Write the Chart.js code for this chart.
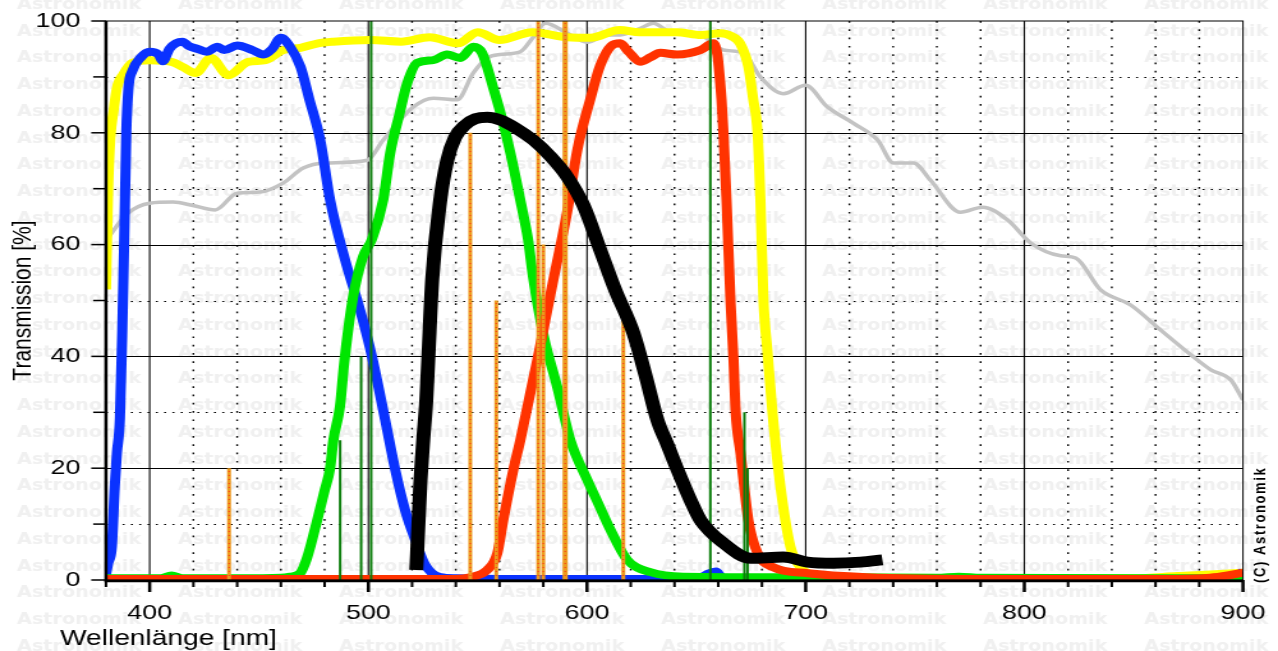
<!DOCTYPE html>
<html>
<head>
<meta charset="utf-8">
<script src="https://cdn.jsdelivr.net/npm/chart.js@4"></script>
<style>
  html, body { margin: 0; padding: 0; background: #fff; overflow: hidden; }
  /* the original picture is a 1000px wide plot stretched to 1278px */
  #chart { width: 1000px; height: 651px; transform: scaleX(1.278); transform-origin: 0 0; display: block; }
</style>
</head>
<body>
<canvas id="chart" width="1000" height="651"></canvas>
<script>
// wavelength grid (nm) and transmission (%)
const blueNm = [380, 381, 382.7, 384, 385, 386.4, 387.5, 388.5, 389.3, 390.3, 392, 396, 400, 404, 406, 409, 412, 415, 418, 422, 426, 431, 434, 440, 447, 452, 456, 460, 464, 469, 473, 478, 482.5, 489.4, 496.2, 501.7, 507.7, 512.3, 516.8, 521.4, 526, 532.9, 540, 560, 600, 650, 656, 659, 662, 670, 750, 850, 895, 900];
const blueT  = [1, 3, 6, 16.6, 22.7, 29, 45, 64, 80, 88, 91, 93.5, 94.5, 94, 92.8, 95, 96, 96.3, 95.5, 95, 94.5, 95.4, 94.8, 95.6, 94.8, 94, 95, 97, 95.5, 91.8, 86, 78.7, 68, 57.2, 48.3, 39.9, 28.6, 19.7, 12.5, 7.2, 2.7, 0.5, 0.3, 0.2, 0.2, 0.2, 1.2, 1.5, 0.4, 0.2, 0.2, 0.2, 0.2, 1.5];

const greenNm = [380, 405, 410, 415, 440, 460, 464.2, 468.8, 472, 476.6, 480, 482.5, 484, 487, 489, 493, 497.5, 501.7, 506.8, 510, 514, 517.8, 522.3, 529.7, 536, 542, 548, 552, 557, 561.7, 566.3, 570, 573, 575.4, 580, 586.4, 592.4, 600, 605, 610.7, 618.4, 629, 644, 700, 760, 770, 780, 850, 890, 900];
const greenT  = [0.3, 0.3, 0.8, 0.3, 0.3, 0.4, 0.6, 1.2, 4, 10.7, 16, 20, 25, 31, 39, 50.6, 57.8, 61, 68, 76.4, 83, 88.9, 92.5, 93, 94, 93.4, 95.4, 94.3, 88.2, 81.7, 74, 67, 61, 54, 44, 34.5, 25, 18, 13.8, 9, 3.6, 1.4, 0.6, 0.5, 0.4, 0.6, 0.4, 0.3, 0.3, 0.6];

const redNm = [380, 450, 540, 546.6, 554.4, 559, 561.7, 566.3, 569.5, 577.3, 584.6, 591, 595.6, 601.5, 606, 611, 615.2, 619, 624.4, 629, 633.5, 641.3, 651.8, 657.8, 659.6, 660.2, 661.5, 662.4, 663.8, 665.6, 667, 668, 670.2, 673.8, 678, 685, 701, 728, 780, 870, 885, 893, 900];
const redT  = [0.2, 0.2, 0.2, 0.5, 1.8, 4.8, 10.7, 19.7, 25, 39.4, 53.7, 66, 77, 86, 92, 95.5, 96, 94.5, 92.7, 93.5, 94.3, 94, 94.8, 96, 94, 92, 86, 80, 68, 50, 39.4, 30, 22.7, 10.7, 4.8, 2.3, 1.2, 0.5, 0.2, 0.2, 0.4, 0.8, 1.3];

const yellowNm = [380, 381, 382, 383.5, 385, 388, 392, 400, 410, 415, 421, 428, 436, 445, 453, 461, 469, 477, 484, 501, 515, 528, 541, 550, 560, 575, 591, 601.5, 615, 624, 641, 652, 661, 666, 670, 673.8, 676, 678, 679.3, 680.7, 682.5, 684.8, 688.5, 693, 697.6, 702, 710, 850, 870, 885, 900];
const yellowT  = [52, 70, 79, 84, 88, 90.5, 92.5, 93, 92.7, 91.8, 90.7, 93.4, 90.3, 92.7, 93, 94.8, 95.2, 96, 96.3, 96.6, 96.3, 97.1, 96, 98, 96.6, 98, 97.1, 97, 98.4, 98, 98, 97.5, 97.8, 97.3, 96, 91.8, 86, 80, 68, 50, 41, 30, 16.6, 6, 2.3, 1, 0.4, 0.3, 0.7, 1, 1.3];

const grayNm = [380.5, 390, 400, 410.7, 419.8, 429.9, 440, 450.5, 461, 470.2, 480.2, 499.5, 506.8, 520.5, 529.7, 540.6, 548, 554.4, 560.3, 569.5, 575.4, 581, 591, 600.1, 609.3, 615.2, 624.4, 630.3, 638.1, 651.8, 662.4, 671.5, 679.3, 689.8, 699.9, 710, 721.9, 732.9, 740.2, 749.3, 757.1, 770.8, 780.9, 792.4, 802.9, 816.6, 823.5, 834.9, 848.6, 862.4, 876.1, 885.3, 894.4, 900];
const grayT  = [61, 65.6, 67.4, 67.6, 67, 66.2, 69.2, 69.4, 71, 73.7, 74.6, 75.1, 78.7, 84.6, 86.2, 85.9, 90.7, 93.4, 94, 94.5, 97.1, 99.6, 97.8, 96.2, 97.5, 97.5, 98.7, 99.6, 98, 97.5, 94.8, 94.3, 90, 87, 88.5, 84.6, 81.7, 78.7, 74.6, 74.6, 71.5, 65.8, 66.7, 64.4, 60.3, 58, 57.6, 51.9, 49.2, 44.7, 40.3, 37.6, 35.8, 32.2];

const blackNm = [521.9, 522.3, 523.7, 525.1, 526.5, 527.4, 529.2, 532.9, 536.1, 539.7, 544.3, 548.9, 554.4, 560.3, 567.2, 575.4, 583.2, 591, 598.3, 606.1, 612.9, 621.2, 626.7, 632.2, 636.8, 641.4, 647.3, 651.9, 662.4, 674.7, 689.8, 700.8, 712.7, 725.1, 735.1];
const blackT  = [1.8, 4.8, 16.6, 25, 32.2, 39.4, 53.7, 68, 75.1, 79.2, 81.4, 82.5, 82.8, 82.3, 80.9, 78.7, 75.8, 72.1, 67.1, 59, 51.9, 44.2, 36.7, 28.6, 24.2, 19.7, 14.3, 10.7, 6.6, 3.9, 4.1, 3.2, 3, 3.2, 3.6];

// emission lines: wavelength and drawn height
const orangeLineNm = [436.3, 546.6, 558.5, 577.7, 580, 590, 616.6];
const orangeLineT  = [20, 80, 50, 100, 60, 100, 50];
const greenLineNm = [487.1, 496.7, 501.3, 656.4, 672, 673.4];
const greenLineT  = [25, 40, 100, 100, 30, 20];

const xTicks = [400, 500, 600, 700, 800, 900];
const yTicks = [0, 20, 40, 60, 80, 100];

const pts = (xs, ys) => xs.map((x, i) => ({ x: x, y: ys[i] }));
const curve = (xs, ys, color, w) => ({
  data: pts(xs, ys), borderColor: color, borderWidth: w,
  cubicInterpolationMode: 'monotone', clip: 0, pointRadius: 0
});
const spike = (nm, h, color, w, dash) => ({
  data: [{ x: nm, y: 0 }, { x: nm, y: h }], borderColor: color, borderWidth: w,
  borderDash: dash || [], clip: 0, pointRadius: 0
});

// first dataset is painted last (on top)
const datasets = [curve(blackNm, blackT, '#000000', 11)];
greenLineNm.forEach((nm, i) => datasets.push(spike(nm, greenLineT[i], '#0a7d0a', 2)));
orangeLineNm.forEach((nm, i) => datasets.push(spike(nm, orangeLineT[i], '#ff2a1a', 1, [1, 3])));
orangeLineNm.forEach((nm, i) => datasets.push(spike(nm, orangeLineT[i], '#ec9a1c', nm === 590 ? 4 : 3)));
datasets.push(curve(redNm, redT, '#ff3300', 8));
datasets.push(curve(greenNm, greenT, '#00e600', 8));
datasets.push(curve(blueNm, blueT, '#0a32ff', 8));
datasets.push(curve(yellowNm, yellowT, '#ffff00', 8));
datasets.push(curve(grayNm, grayT, '#c3c3c3', 3.5));

const FONT = '"Liberation Sans", Arial, sans-serif';

const backdrop = {
  id: 'backdrop',
  beforeDraw(chart) {
    const ctx = chart.ctx;
    ctx.save();
    ctx.fillStyle = '#ffffff';
    ctx.fillRect(0, 0, chart.width, chart.height);
    ctx.fillStyle = '#f0f0f0';
    ctx.font = 'bold 15px "DejaVu Sans"';
    ctx.textBaseline = 'middle';
    for (let r = 0; r < 25; r++) {
      for (let c = 0; c < 8; c++) {
        ctx.fillText('Astronomik', 13.3 + c * 126, 5 + r * 26.75);
      }
    }
    ctx.restore();
  },
  beforeDatasetsDraw(chart) {
    const { ctx, chartArea: a, scales: { x, y } } = chart;
    ctx.save();
    ctx.lineWidth = 1;
    for (let v = 10; v < 100; v += 10) {
      const py = Math.round(y.getPixelForValue(v)) + 0.5;
      ctx.strokeStyle = '#000';
      ctx.setLineDash(v % 20 === 0 ? [] : [1.6, 4.9]);
      ctx.beginPath(); ctx.moveTo(a.left, py); ctx.lineTo(a.right, py); ctx.stroke();
    }
    for (let nm = 400; nm < 900; nm += 20) {
      const px = x.getPixelForValue(nm);
      const solid = nm % 100 === 0;
      ctx.strokeStyle = '#000';
      ctx.lineWidth = solid ? 1.1 : 1.4;
      ctx.setLineDash(solid ? [] : [1.7, 6.6]);
      ctx.beginPath(); ctx.moveTo(px, a.top); ctx.lineTo(px, a.bottom); ctx.stroke();
    }
    ctx.restore();
  },
  afterDatasetsDraw(chart) {
    const { ctx, chartArea: a, scales: { x, y } } = chart;
    ctx.save();
    ctx.strokeStyle = '#000';
    ctx.lineWidth = 1;
    ctx.strokeRect(a.left, a.top, a.right - a.left, a.bottom - a.top);
    ctx.lineWidth = 2.5;
    ctx.beginPath();
    ctx.moveTo(a.left, a.top); ctx.lineTo(a.left, a.bottom + 1);
    ctx.lineTo(a.right, a.bottom + 1);
    ctx.stroke();
    // tick marks
    for (let v = 0; v <= 100; v += 10) {
      const py = y.getPixelForValue(v);
      ctx.lineWidth = 1.5;
      ctx.beginPath(); ctx.moveTo(a.left - (v % 20 === 0 ? 11.5 : 10), py); ctx.lineTo(a.left, py); ctx.stroke();
    }
    for (let nm = 380; nm <= 900; nm += 20) {
      const px = x.getPixelForValue(nm);
      const major = nm % 100 === 0;
      ctx.lineWidth = major ? 2.5 : 2;
      ctx.beginPath(); ctx.moveTo(px, a.bottom); ctx.lineTo(px, a.bottom + (major ? 12 : 7)); ctx.stroke();
    }
    ctx.restore();
  },
  afterDraw(chart) {
    const ctx = chart.ctx;
    ctx.save();
    ctx.fillStyle = '#000';
    ctx.font = '22px ' + FONT;
    ctx.textBaseline = 'alphabetic';
    ctx.textAlign = 'left';
    ctx.fillText('Wellenlänge [nm]', 47, 645);
    ctx.translate(986, 583);
    ctx.rotate(-Math.PI / 2);
    ctx.font = 'bold 13px ' + FONT;
    if ('letterSpacing' in ctx) ctx.letterSpacing = '1.6px';
    ctx.textBaseline = 'middle';
    ctx.fillText('(C) Astronomik', 0, 0);
    ctx.restore();
  }
};

new Chart(document.getElementById('chart'), {
  type: 'line',
  data: { datasets: datasets },
  plugins: [backdrop],
  options: {
    responsive: false,
    animation: false,
    devicePixelRatio: 1,
    layout: { padding: { top: 21, right: 27.4, left: 0, bottom: 0 } },
    plugins: { legend: { display: false }, tooltip: { enabled: false } },
    elements: { line: { borderCapStyle: 'butt', borderJoinStyle: 'round', tension: 0 } },
    scales: {
      x: {
        type: 'linear', min: 380, max: 900,
        grid: { display: false, drawTicks: false },
        border: { display: false },
        ticks: {
          stepSize: 20, autoSkip: false, maxRotation: 0, padding: 21,
          color: '#000', font: { family: FONT, size: 21 },
          callback: v => xTicks.includes(v) ? String(v) : ''
        },
        afterFit: s => { s.height = 71; s.paddingLeft = 0; s.paddingRight = 0; }
      },
      y: {
        min: 0, max: 100,
        grid: { display: false, drawTicks: false },
        border: { display: false },
        ticks: {
          stepSize: 10, autoSkip: false, padding: 20,
          color: '#000', font: { family: FONT, size: 21 },
          callback: v => yTicks.includes(v) ? String(v) : ''
        },
        title: {
          display: true, text: 'Transmission [%]', color: '#000',
          font: { family: FONT, size: 21 }, padding: { top: 6, bottom: 0 }
        },
        afterFit: s => { s.width = 82.9; s.paddingTop = 0; s.paddingBottom = 0; }
      }
    }
  }
});
</script>
</body>
</html>
